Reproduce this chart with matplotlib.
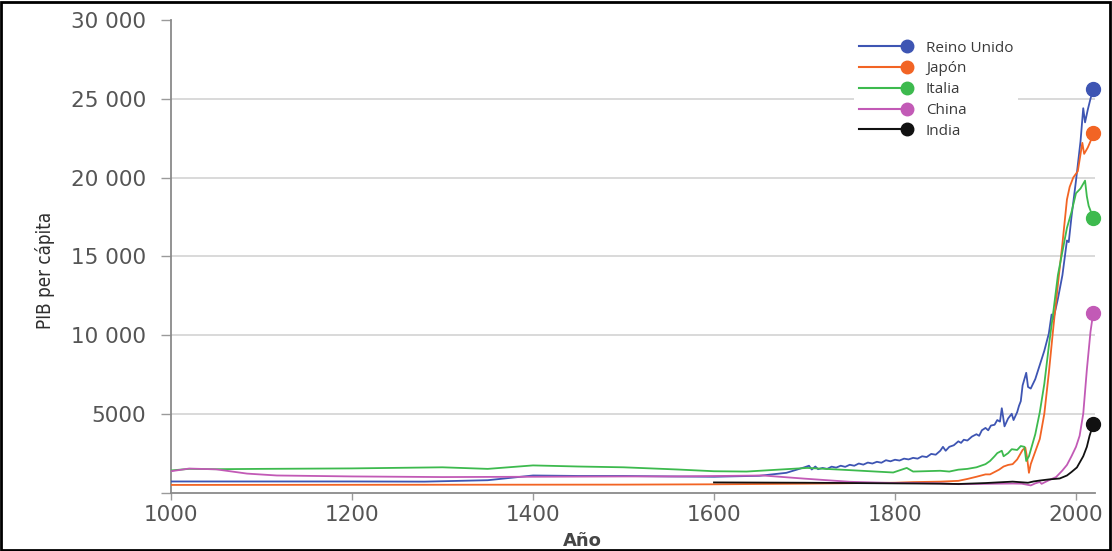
import matplotlib
matplotlib.use("Agg")
import matplotlib.pyplot as plt
from matplotlib.lines import Line2D
from matplotlib.legend_handler import HandlerBase
from matplotlib.patches import Rectangle

# ---------------- data ----------------
series_names = ["Reino Unido", "Japón", "Italia", "China", "India"]

uk_years = [1000, 1100, 1200, 1280, 1350, 1400, 1450, 1500, 1550, 1600, 1650, 1680,
            1700, 1705, 1708, 1712, 1715, 1720, 1725, 1730, 1735, 1740, 1745, 1750,
            1755, 1760, 1765, 1770, 1775, 1780, 1785, 1790, 1795, 1800, 1805, 1810,
            1815, 1820, 1825, 1830, 1835, 1840, 1845, 1850, 1853, 1856, 1860, 1865,
            1870, 1873, 1876, 1880, 1885, 1890, 1893, 1896, 1900, 1903, 1906, 1910,
            1913, 1916, 1918, 1920, 1921, 1925, 1929, 1931, 1935, 1937, 1939, 1941,
            1943, 1945, 1947, 1950, 1955, 1960, 1965, 1970, 1973, 1975, 1980, 1985,
            1990, 1992, 1995, 2000, 2005, 2008, 2010, 2013, 2016, 2019]
uk_gdp = [700, 700, 700, 690, 780, 1080, 1050, 1050, 1020, 1000, 1060, 1250,
          1600, 1700, 1460, 1650, 1480, 1560, 1500, 1640, 1580, 1700, 1630, 1760,
          1700, 1840, 1770, 1900, 1840, 1950, 1890, 2050, 1980, 2080, 2030, 2150,
          2100, 2200, 2150, 2300, 2250, 2450, 2400, 2650, 2900, 2650, 2900, 3000,
          3250, 3150, 3350, 3300, 3550, 3700, 3600, 3950, 4100, 3950, 4250, 4300,
          4600, 4500, 5350, 4600, 4200, 4700, 5000, 4600, 5100, 5500, 5800, 6800,
          7200, 7600, 6700, 6600, 7200, 8100, 9000, 10100, 11300, 11000, 12300, 13800,
          16000, 15900, 17500, 19800, 22300, 24400, 23500, 24300, 25000, 25600]

jp_years = [1000, 1500, 1600, 1700, 1800, 1820, 1850, 1870, 1880, 1890, 1900, 1905,
            1910, 1915, 1920, 1925, 1930, 1935, 1938, 1941, 1944, 1946, 1948, 1950,
            1955, 1960, 1965, 1970, 1975, 1980, 1985, 1990, 1993, 1997, 2002, 2007,
            2009, 2013, 2016, 2019]
jp_gdp = [480, 500, 520, 560, 620, 660, 690, 740, 860, 1000, 1150, 1150,
          1300, 1450, 1650, 1750, 1800, 2100, 2400, 2700, 2850, 2200, 1250, 1800,
          2600, 3400, 5000, 7600, 10500, 13200, 15800, 18600, 19400, 20000, 20400, 22200,
          21500, 21900, 22300, 22800]

it_years = [1000, 1020, 1050, 1100, 1200, 1300, 1350, 1400, 1450, 1500, 1560, 1600,
            1636, 1703, 1750, 1798, 1813, 1820, 1850, 1860, 1870, 1880, 1890, 1900,
            1905, 1910, 1913, 1918, 1920, 1925, 1929, 1935, 1939, 1943, 1945, 1948,
            1950, 1955, 1960, 1965, 1970, 1975, 1980, 1985, 1990, 1995, 2000, 2005,
            2010, 2012, 2014, 2016, 2019]
it_gdp = [1400, 1500, 1480, 1500, 1530, 1600, 1500, 1720, 1650, 1600, 1460, 1350,
          1330, 1560, 1420, 1270, 1560, 1330, 1380, 1330, 1450, 1500, 1600, 1800,
          2000, 2300, 2500, 2650, 2300, 2500, 2750, 2700, 2950, 2900, 2000, 2300,
          2700, 3700, 5100, 6900, 9300, 11500, 13800, 15300, 16800, 17800, 19000, 19300,
          19800, 18800, 18200, 17900, 17400]

cn_years = [1000, 1020, 1050, 1084, 1117, 1200, 1300, 1400, 1500, 1560, 1654, 1700,
            1750, 1800, 1820, 1850, 1870, 1900, 1913, 1930, 1940, 1950, 1955, 1960,
            1962, 1970, 1978, 1985, 1990, 1995, 2000, 2004, 2008, 2012, 2016, 2019]
cn_gdp = [1350, 1520, 1470, 1200, 1080, 1020, 980, 1000, 1020, 1020, 1080, 880,
          680, 600, 600, 580, 530, 550, 560, 570, 560, 450, 580, 670,
          550, 780, 980, 1400, 1750, 2300, 2900, 3600, 5000, 7800, 10200, 11400]

in_years = [1600, 1650, 1700, 1750, 1800, 1828, 1850, 1870, 1900, 1913, 1930, 1947,
            1953, 1960, 1970, 1982, 1990, 1995, 2001, 2008, 2012, 2015, 2019]
in_gdp = [640, 630, 620, 600, 580, 570, 560, 540, 600, 640, 690, 620,
          700, 760, 830, 890, 1080, 1300, 1590, 2300, 2900, 3600, 4320]

series_years = [uk_years, jp_years, it_years, cn_years, in_years]
series_gdp = [uk_gdp, jp_gdp, it_gdp, cn_gdp, in_gdp]
series_colors = ["#3e55b3", "#f26424", "#3dba4e", "#c25ab6", "#111111"]

x_ticks = [1000, 1200, 1400, 1600, 1800, 2000]
y_ticks = [0, 5000, 10000, 15000, 20000, 25000, 30000]
y_tick_labels = ["", "5000", "10 000", "15 000", "20 000", "25 000", "30 000"]
x_label = "Año"
y_label = "PIB per cápita"

# ---------------- figure ----------------
plt.rcParams['font.family'] = ['DejaVu Sans']

fig = plt.figure(figsize=(11.12, 5.51), dpi=100)
ax = fig.add_axes([171 / 1112, 1 - 492.5 / 551, (1095 - 171) / 1112, (492.5 - 20) / 551])

for yrs, vals, col in zip(series_years, series_gdp, series_colors):
    ax.plot(yrs, vals, color=col, lw=1.3, zorder=3)
    ax.plot(yrs[-1:], vals[-1:], 'o', color=col, ms=10, zorder=4, clip_on=False)

ax.set_xlim(1000, 2021)
ax.set_ylim(0, 30000)
ax.set_xticks(x_ticks)
ax.set_xticklabels([str(t) for t in x_ticks])
ax.set_yticks(y_ticks)
ax.set_yticklabels(y_tick_labels)

for s in ["top", "right"]:
    ax.spines[s].set_visible(False)
for s in ["left", "bottom"]:
    ax.spines[s].set_color("#8a8a8a")
    ax.spines[s].set_linewidth(1.3)

ax.tick_params(axis="y", length=7, width=1, color="#9a9a9a", pad=11,
               labelsize=15.5, labelcolor="#555555")
ax.tick_params(axis="x", length=5, width=1, color="#9a9a9a", pad=4,
               labelsize=15.5, labelcolor="#555555")

ax.grid(axis="y", color="#cfcfcf", lw=1.1, zorder=0)
ax.grid(axis="x", visible=False)
ax.yaxis.get_major_ticks()[-1].gridline.set_visible(False)
ax.yaxis.get_major_ticks()[0].gridline.set_visible(False)
ax.set_axisbelow(True)


class EndDotHandler(HandlerBase):
    def create_artists(self, legend, orig_handle, xdescent, ydescent, width,
                       height, fontsize, trans):
        y = height / 2 - ydescent
        col = orig_handle.get_color()
        ln = Line2D([-xdescent, width - xdescent], [y, y], color=col, lw=1.5)
        dot = Line2D([width - xdescent], [y], marker='o', ms=9, color=col, ls='none')
        ln.set_transform(trans)
        dot.set_transform(trans)
        return [ln, dot]


handles = [Line2D([], [], color=c) for c in series_colors]
leg = ax.legend(handles, series_names, handler_map={Line2D: EndDotHandler()},
                loc="upper left", bbox_to_anchor=(854 / 1112, 1 - 36 / 551),
                bbox_transform=fig.transFigure, frameon=True, fancybox=False,
                edgecolor="none", facecolor="white", framealpha=1,
                prop={"family": "Open Sans", "size": 11},
                handlelength=3.2, handletextpad=1.2,
                labelspacing=0.38, borderpad=0.3, borderaxespad=0)
for t in leg.get_texts():
    t.set_color("#3a3a3a")
leg.set_zorder(5)

fig.text(582 / 1112, 1 - 541 / 551, x_label, ha="center", va="center",
         fontsize=13, color="#454545", fontweight="bold")
fig.text(45 / 1112, 1 - 270 / 551, y_label, ha="center", va="center",
         rotation=90, fontsize=13.5, color="#2e2e2e",
         family="DejaVu Sans", fontstretch="condensed")

fig.add_artist(Rectangle((0.001, 0.002), 0.997, 0.995, transform=fig.transFigure,
                         fill=False, ec="black", lw=2))

fig.savefig("out.png", dpi=100)
